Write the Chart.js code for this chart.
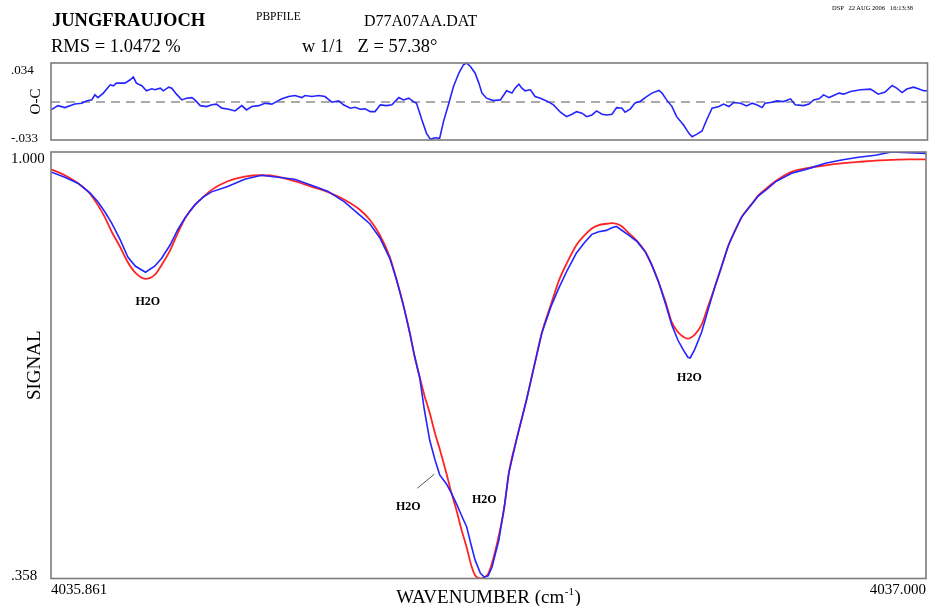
<!DOCTYPE html>
<html>
<head>
<meta charset="utf-8">
<script src="https://cdn.jsdelivr.net/npm/chart.js@4.4.0/dist/chart.umd.min.js"></script>
<style>
  html, body { margin: 0; padding: 0; background: #fff; }
  body { width: 929px; height: 606px; position: relative; overflow: hidden;
         font-family: "Liberation Serif", "Times New Roman", serif; color: #000; }
  canvas { position: absolute; left: 0; }
  #oc { top: 0; }
  #sig { top: 150px; }
  .t { position: absolute; line-height: 1; white-space: pre; z-index: 2; }
</style>
</head>
<body>
<div class="t" style="left:52px;top:10.5px;font-size:18.5px;font-weight:bold">JUNGFRAUJOCH</div>
<div class="t" style="left:256px;top:10.5px;font-size:11.5px">PBPFILE</div>
<div class="t" style="left:364px;top:12.6px;font-size:16px">D77A07AA.DAT</div>
<div class="t" style="left:832px;top:4.5px;font-size:6.5px">DSP   22 AUG 2006   16:13:38</div>
<div class="t" style="left:51px;top:36.5px;font-size:18.5px">RMS = 1.0472 %</div>
<div class="t" style="left:302px;top:36.5px;font-size:18.5px">w 1/1   Z = 57.38°</div>

<canvas id="oc" width="929" height="150"></canvas>
<canvas id="sig" width="929" height="456"></canvas>

<script>
const WN_MIN = 4035.861;
const WN_MAX = 4037.000;

// main panel: observed (blue) and calculated (red) spectra
const wavenumber = [4035.861, 4035.879, 4035.896, 4035.912, 4035.922, 4035.931, 4035.940, 4035.951, 4035.961, 4035.971,
  4035.984, 4035.996, 4036.005, 4036.016, 4036.026, 4036.036, 4036.048, 4036.059, 4036.070, 4036.091,
  4036.113, 4036.135, 4036.156, 4036.178, 4036.200, 4036.221, 4036.243, 4036.263, 4036.276, 4036.289,
  4036.302, 4036.311, 4036.320, 4036.328, 4036.334, 4036.341, 4036.347, 4036.354, 4036.361, 4036.367,
  4036.376, 4036.382, 4036.389, 4036.395, 4036.402, 4036.408, 4036.413, 4036.420, 4036.425, 4036.430,
  4036.435, 4036.444, 4036.451, 4036.457, 4036.468, 4036.480, 4036.490, 4036.500, 4036.512, 4036.522,
  4036.533, 4036.545, 4036.555, 4036.565, 4036.574, 4036.584, 4036.591, 4036.597, 4036.603, 4036.613,
  4036.624, 4036.635, 4036.643, 4036.652, 4036.661, 4036.669, 4036.677, 4036.684, 4036.690, 4036.693,
  4036.699, 4036.708, 4036.717, 4036.726, 4036.734, 4036.743, 4036.752, 4036.760, 4036.772, 4036.782,
  4036.793, 4036.804, 4036.825, 4036.847, 4036.869, 4036.890, 4036.912, 4036.934, 4036.955, 4036.977,
  4037.000];

const observed = [0.970, 0.962, 0.953, 0.938, 0.925, 0.910, 0.893, 0.868, 0.842, 0.828,
  0.819, 0.828, 0.840, 0.860, 0.883, 0.902, 0.920, 0.932, 0.940, 0.948,
  0.959, 0.965, 0.962, 0.959, 0.950, 0.941, 0.925, 0.905, 0.892, 0.871,
  0.840, 0.807, 0.768, 0.728, 0.694, 0.660, 0.612, 0.566, 0.536, 0.514,
  0.500, 0.487, 0.470, 0.454, 0.436, 0.408, 0.386, 0.366, 0.360, 0.362,
  0.375, 0.416, 0.466, 0.517, 0.572, 0.627, 0.678, 0.728, 0.768, 0.795,
  0.822, 0.848, 0.863, 0.876, 0.880, 0.882, 0.886, 0.888, 0.883, 0.875,
  0.865, 0.849, 0.830, 0.804, 0.771, 0.740, 0.717, 0.702, 0.691, 0.690,
  0.703, 0.729, 0.765, 0.800, 0.828, 0.860, 0.883, 0.902, 0.920, 0.934,
  0.944, 0.955, 0.968, 0.975, 0.983, 0.988, 0.992, 0.995, 1.000, 0.999,
  0.998];

const calculated = [0.974, 0.965, 0.953, 0.937, 0.920, 0.902, 0.880, 0.857, 0.834, 0.818,
  0.809, 0.815, 0.830, 0.852, 0.878, 0.901, 0.920, 0.932, 0.943, 0.956,
  0.963, 0.965, 0.963, 0.956, 0.948, 0.940, 0.928, 0.913, 0.898, 0.875,
  0.842, 0.807, 0.768, 0.728, 0.694, 0.661, 0.634, 0.607, 0.576, 0.553,
  0.515, 0.488, 0.460, 0.433, 0.405, 0.378, 0.363, 0.358, 0.360, 0.365,
  0.381, 0.423, 0.464, 0.517, 0.572, 0.627, 0.678, 0.728, 0.771, 0.806,
  0.834, 0.860, 0.874, 0.885, 0.890, 0.892, 0.893, 0.892, 0.889, 0.878,
  0.866, 0.849, 0.830, 0.804, 0.774, 0.744, 0.729, 0.722, 0.719, 0.720,
  0.725, 0.740, 0.770, 0.800, 0.828, 0.860, 0.883, 0.902, 0.920, 0.935,
  0.946, 0.956, 0.970, 0.976, 0.980, 0.983, 0.985, 0.987, 0.988, 0.989,
  0.989];

// top panel: observed minus calculated
const ocWavenumber = [4035.861, 4035.870, 4035.879, 4035.892, 4035.901, 4035.907, 4035.914, 4035.918, 4035.922, 4035.929,
  4035.938, 4035.942, 4035.946, 4035.957, 4035.964, 4035.968, 4035.972, 4035.979, 4035.985, 4035.992,
  4035.996, 4036.003, 4036.007, 4036.014, 4036.018, 4036.024, 4036.031, 4036.037, 4036.044, 4036.048,
  4036.055, 4036.063, 4036.070, 4036.076, 4036.083, 4036.092, 4036.100, 4036.109, 4036.115, 4036.122,
  4036.131, 4036.139, 4036.148, 4036.154, 4036.161, 4036.170, 4036.178, 4036.187, 4036.191, 4036.200,
  4036.209, 4036.217, 4036.226, 4036.235, 4036.241, 4036.250, 4036.256, 4036.263, 4036.269, 4036.276,
  4036.282, 4036.289, 4036.297, 4036.304, 4036.313, 4036.319, 4036.326, 4036.332, 4036.336, 4036.343,
  4036.349, 4036.354, 4036.360, 4036.366, 4036.371, 4036.378, 4036.384, 4036.391, 4036.397, 4036.401,
  4036.406, 4036.412, 4036.417, 4036.421, 4036.427, 4036.436, 4036.445, 4036.453, 4036.460, 4036.464,
  4036.469, 4036.473, 4036.477, 4036.484, 4036.490, 4036.497, 4036.505, 4036.514, 4036.523, 4036.531,
  4036.538, 4036.544, 4036.551, 4036.557, 4036.564, 4036.570, 4036.577, 4036.583, 4036.590, 4036.596,
  4036.603, 4036.607, 4036.614, 4036.620, 4036.627, 4036.635, 4036.642, 4036.651, 4036.655, 4036.661,
  4036.668, 4036.674, 4036.683, 4036.690, 4036.694, 4036.700, 4036.707, 4036.713, 4036.720, 4036.729,
  4036.735, 4036.742, 4036.748, 4036.757, 4036.765, 4036.772, 4036.778, 4036.785, 4036.789, 4036.798,
  4036.804, 4036.813, 4036.822, 4036.828, 4036.839, 4036.846, 4036.852, 4036.859, 4036.865, 4036.872,
  4036.878, 4036.885, 4036.891, 4036.900, 4036.913, 4036.926, 4036.936, 4036.945, 4036.954, 4036.960,
  4036.967, 4036.973, 4036.982, 4036.988, 4036.995, 4037.000];

const ocResidual = [-0.0068, -0.0031, -0.0048, -0.0016, -0.0010, 0.0010, 0.0019, 0.0063, 0.0039, 0.0078,
  0.0150, 0.0142, 0.0165, 0.0165, 0.0194, 0.0218, 0.0165, 0.0142, 0.0098, 0.0115,
  0.0107, 0.0121, 0.0098, 0.0130, 0.0121, 0.0069, 0.0019, 0.0034, 0.0039, 0.0019,
  -0.0031, -0.0039, -0.0024, -0.0018, -0.0053, -0.0062, -0.0077, -0.0031, -0.0068, -0.0039,
  -0.0031, -0.0010, -0.0018, 0.0004, 0.0028, 0.0048, 0.0057, 0.0039, 0.0057, 0.0048,
  0.0057, 0.0048, -0.0001, 0.0010, -0.0024, -0.0053, -0.0045, -0.0062, -0.0059, -0.0083,
  -0.0083, -0.0024, -0.0031, -0.0024, 0.0039, 0.0019, 0.0034, 0.0004, -0.0010, -0.0156,
  -0.0272, -0.0324, -0.0310, -0.0316, -0.0170, -0.0010, 0.0135, 0.0253, 0.0325, 0.0340,
  0.0310, 0.0253, 0.0165, 0.0078, 0.0034, 0.0013, 0.0019, 0.0098, 0.0078, 0.0121,
  0.0156, 0.0121, 0.0098, 0.0107, 0.0048, 0.0034, 0.0010, -0.0024, -0.0088, -0.0127,
  -0.0106, -0.0083, -0.0097, -0.0127, -0.0112, -0.0077, -0.0106, -0.0112, -0.0106, -0.0048,
  -0.0053, -0.0088, -0.0059, -0.0007, 0.0008, 0.0048, 0.0078, 0.0101, 0.0078, 0.0019,
  -0.0039, -0.0127, -0.0199, -0.0272, -0.0302, -0.0281, -0.0252, -0.0156, -0.0053, -0.0039,
  -0.0018, -0.0039, -0.0004, -0.0010, -0.0033, -0.0010, -0.0024, -0.0048, -0.0010, -0.0001,
  0.0010, 0.0004, 0.0028, -0.0024, -0.0031, -0.0018, 0.0019, 0.0028, 0.0063, 0.0039,
  0.0057, 0.0078, 0.0069, 0.0092, 0.0107, 0.0113, 0.0069, 0.0087, 0.0144, 0.0121,
  0.0083, 0.0113, 0.0130, 0.0115, 0.0098, 0.0098];

const ocRange = [-0.033, 0.034];
const ocTickLabels = ['.034', '-.033'];
const signalRange = [0.358, 1.000];
const signalTickLabels = ['1.000', '.358'];

// line identifications, in data units
const h2oNotes = [
  { text: 'H2O', x: 4035.987, y: 0.774 },
  { text: 'H2O', x: 4036.326, y: 0.466 },
  { text: 'H2O', x: 4036.425, y: 0.476 },
  { text: 'H2O', x: 4036.692, y: 0.660 }
];
const h2oLeader = [[4036.338, 0.494], [4036.360, 0.515]];

const SERIF = '"Liberation Serif", "Times New Roman", serif';
const BLUE = '#2424ff';
const RED = '#ff2424';

const toPoints = (xs, ys) => xs.map((x, i) => ({ x: x, y: ys[i] }));

// frame + edge tick labels + notes
const decor = {
  id: 'decor',
  afterDraw(chart, args, o) {
    const { ctx, chartArea: a } = chart;
    const y = chart.scales.y;
    const x = chart.scales.x;
    ctx.save();
    ctx.strokeStyle = '#7c7c7c';
    ctx.lineWidth = 1.6;
    ctx.strokeRect(a.left, a.top, a.right - a.left, a.bottom - a.top);

    ctx.fillStyle = '#000';
    ctx.textAlign = 'left';
    ctx.textBaseline = 'alphabetic';
    ctx.font = o.tickSize + 'px ' + SERIF;
    ctx.fillText(o.ticks[0], 11, y.getPixelForValue(y.max) + o.topOffset);
    ctx.fillText(o.ticks[1], 11, y.getPixelForValue(y.min) + 1.5);

    if (o.notes) {
      ctx.font = 'bold 12px ' + SERIF;
      ctx.textAlign = 'center';
      ctx.textBaseline = 'middle';
      o.notes.forEach(n => ctx.fillText(n.text, x.getPixelForValue(n.x), y.getPixelForValue(n.y)));
      ctx.strokeStyle = '#555';
      ctx.lineWidth = 1;
      ctx.beginPath();
      ctx.moveTo(x.getPixelForValue(o.leader[0][0]), y.getPixelForValue(o.leader[0][1]));
      ctx.lineTo(x.getPixelForValue(o.leader[1][0]), y.getPixelForValue(o.leader[1][1]));
      ctx.stroke();
    }

    if (o.xTitle) {
      // WAVENUMBER (cm-1) with a raised -1
      const base = a.bottom + 24.5;
      const big = '19px ' + SERIF, small = '11px ' + SERIF;
      ctx.font = big;
      const w1 = ctx.measureText('WAVENUMBER (cm').width;
      const w3 = ctx.measureText(')').width;
      ctx.font = small;
      const w2 = ctx.measureText('-1').width + 1;
      let cx = (a.left + a.right) / 2 - (w1 + w2 + w3) / 2;
      ctx.textAlign = 'left';
      ctx.textBaseline = 'alphabetic';
      ctx.font = big;
      ctx.fillText('WAVENUMBER (cm', cx, base);
      ctx.font = small;
      ctx.fillText('-1', cx + w1 + 0.5, base - 8);
      ctx.font = big;
      ctx.fillText(')', cx + w1 + w2, base);
    }
    ctx.restore();
  }
};

Chart.register(decor);

// O-C panel
new Chart(document.getElementById('oc').getContext('2d'), {
  type: 'line',
  data: {
    datasets: [{
      label: 'O-C',
      data: toPoints(ocWavenumber, ocResidual),
      borderColor: BLUE,
      borderWidth: 1.6,
      pointRadius: 0,
      order: 1
    }, {
      label: 'zero',
      data: toPoints([WN_MIN, WN_MAX], [0, 0]),
      borderColor: '#ababab',
      borderWidth: 2,
      borderDash: [9, 6],
      pointRadius: 0,
      order: 2
    }]
  },
  options: {
    responsive: false,
    animation: false,
    layout: { padding: { top: 63, bottom: 10, left: 0, right: 1.5 } },
    plugins: {
      legend: { display: false },
      tooltip: { enabled: false },
      decor: { ticks: ocTickLabels, tickSize: 13, topOffset: 11 }
    },
    scales: {
      x: { type: 'linear', min: WN_MIN, max: WN_MAX, display: false },
      y: {
        min: ocRange[0], max: ocRange[1],
        grid: { display: false },
        border: { display: false },
        ticks: { display: false },
        title: {
          display: true, text: 'O-C', color: '#000',
          font: { family: SERIF, size: 15, lineHeight: 1 },
          padding: { top: 29, bottom: 0 }
        },
        afterFit(s) { s.width = 51; }
      }
    }
  }
});

// signal panel
new Chart(document.getElementById('sig').getContext('2d'), {
  type: 'line',
  data: {
    datasets: [{
      label: 'observed',
      data: toPoints(wavenumber, observed),
      borderColor: BLUE,
      borderWidth: 1.6,
      pointRadius: 0,
      order: 1
    }, {
      label: 'calculated',
      data: toPoints(wavenumber, calculated),
      borderColor: RED,
      borderWidth: 1.8,
      pointRadius: 0,
      cubicInterpolationMode: 'monotone',
      order: 2
    }]
  },
  options: {
    responsive: false,
    animation: false,
    layout: { padding: { top: 2, bottom: 0, left: 0, right: 1.5 } },
    plugins: {
      legend: { display: false },
      tooltip: { enabled: false },
      decor: { ticks: signalTickLabels, tickSize: 15, topOffset: 11,
               notes: h2oNotes, leader: h2oLeader, xTitle: true }
    },
    scales: {
      x: {
        type: 'linear', min: WN_MIN, max: WN_MAX,
        grid: { display: false, drawTicks: false },
        border: { display: false },
        afterBuildTicks(s) { s.ticks = [{ value: WN_MIN }, { value: WN_MAX }]; },
        ticks: {
          align: 'inner', padding: 3, color: '#000', maxRotation: 0,
          font: { family: SERIF, size: 15 },
          callback: v => v.toFixed(3)
        },
        afterFit(s) { s.height = 27.5; }
      },
      y: {
        min: signalRange[0], max: signalRange[1],
        grid: { display: false },
        border: { display: false },
        ticks: { display: false },
        title: {
          display: true, text: 'SIGNAL', color: '#000',
          font: { family: SERIF, size: 19, lineHeight: 1 },
          padding: { top: 25.5, bottom: 0 }
        },
        afterFit(s) { s.width = 51; }
      }
    }
  }
});
</script>
</body>
</html>
